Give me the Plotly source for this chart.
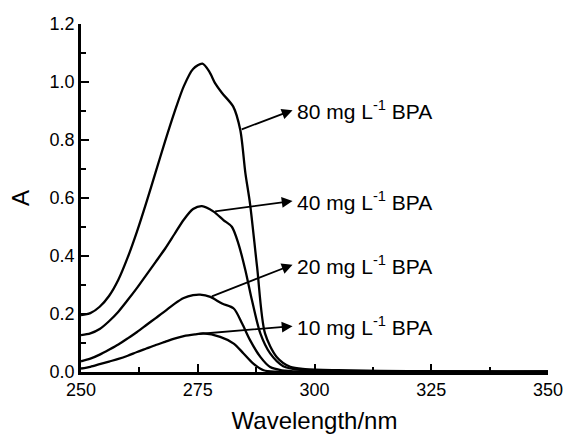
import numpy as np
import plotly.graph_objects as go

# ---- data ----
wl_80 = [250, 252, 254, 256, 258, 260, 262, 264, 266, 268, 270, 272, 274, 276, 277.5, 278.7,
         280.2, 282.6, 284.1, 285.2, 286.2, 287.7, 289.4, 291.9, 294.8, 298, 305, 320, 350]
a_80 = [0.196, 0.203, 0.225, 0.262, 0.318, 0.395, 0.485, 0.585, 0.69, 0.795, 0.895, 0.985,
        1.045, 1.063, 1.035, 0.996, 0.962, 0.915, 0.835, 0.686, 0.58, 0.363, 0.133, 0.052,
        0.018, 0.010, 0.006, 0.003, 0.002]

wl_40 = [250, 252, 254, 256, 258, 260, 262, 264, 266, 268, 270, 272, 274, 275.9, 278.4, 280.5,
         282.3, 283.7, 285.2, 286.6, 288.4, 290.5, 293.3, 297, 305, 350]
a_40 = [0.127, 0.133, 0.148, 0.175, 0.208, 0.248, 0.29, 0.335, 0.38, 0.425, 0.475, 0.525,
        0.562, 0.572, 0.553, 0.524, 0.501, 0.443, 0.351, 0.248, 0.133, 0.064, 0.02, 0.007,
        0.003, 0.001]

wl_20 = [250, 252, 254, 256, 258, 260, 262, 264, 266, 268, 270, 272, 274, 275.5, 277.7, 280.2,
         282.7, 284.5, 286.2, 288.4, 290.5, 293, 297, 350]
a_20 = [0.037, 0.046, 0.060, 0.077, 0.095, 0.116, 0.138, 0.162, 0.186, 0.21, 0.235, 0.255,
        0.265, 0.267, 0.259, 0.236, 0.219, 0.167, 0.110, 0.052, 0.017, 0.006, 0.002, 0.001]

wl_10 = [250, 252, 254, 256, 258, 260, 262, 264, 266, 268, 270, 272, 274.4, 276.2, 279.8, 282.7,
         284.8, 286.9, 289.1, 292, 350]
a_10 = [0.012, 0.018, 0.027, 0.036, 0.045, 0.056, 0.069, 0.081, 0.093, 0.104, 0.115, 0.124,
        0.130, 0.133, 0.121, 0.098, 0.064, 0.029, 0.006, 0.001, 0.0]

labels = ["80 mg L<sup>-1</sup> BPA", "40 mg L<sup>-1</sup> BPA",
          "20 mg L<sup>-1</sup> BPA", "10 mg L<sup>-1</sup> BPA"]
series = [(wl_80, a_80), (wl_40, a_40), (wl_20, a_20), (wl_10, a_10)]
# wavelength on each curve where the pointer starts, and label anchor (x, y)
arrow_from_wl = [284.1, 278.4, 277.7, 274.8]
label_x = 295.6
label_y = [0.903, 0.590, 0.370, 0.158]

FONT = "Liberation Sans, Arial, sans-serif"

fig = go.Figure()
for (wl, a), name in zip(series, labels):
    fig.add_trace(go.Scatter(x=wl, y=a, mode="lines", name=name,
                             line=dict(color="black", width=2.3, shape="spline", smoothing=0.8),
                             showlegend=False, cliponaxis=True))

for (wl, a), lab, w0, ly in zip(series, labels, arrow_from_wl, label_y):
    y0 = float(np.interp(w0, wl, a))
    fig.add_annotation(x=label_x - 0.3, y=ly, ax=w0, ay=y0, xref="x", yref="y",
                       axref="x", ayref="y", text="", showarrow=True,
                       arrowhead=2, arrowsize=1.2, arrowwidth=1.8, arrowcolor="black",
                       standoff=0, startstandoff=0)
    fig.add_annotation(x=label_x + 0.3, y=ly, xref="x", yref="y", text=lab, showarrow=False,
                       xanchor="left", yanchor="middle",
                       font=dict(family=FONT, size=21, color="black"))

axis_common = dict(showline=True, linecolor="black", linewidth=2.5, ticks="inside",
                   ticklen=8, tickwidth=2, tickcolor="black", showgrid=False, zeroline=False,
                   tickfont=dict(family=FONT, size=18, color="black"), mirror=False,
                   automargin=False)

fig.update_xaxes(range=[250, 350], dtick=25, tick0=250,
                 minor=dict(ticks="inside", ticklen=5, tickwidth=2, tickcolor="black", dtick=12.5),
                 title=dict(text="Wavelength/nm", font=dict(family=FONT, size=24, color="black"),
                            standoff=18),
                 **axis_common)
fig.update_yaxes(range=[0, 1.2], dtick=0.2, tick0=0, tickformat=".1f",
                 minor=dict(ticks="inside", ticklen=5, tickwidth=2, tickcolor="black", dtick=0.1),
                 title=dict(text="A", font=dict(family=FONT, size=24, color="black"),
                            standoff=14),
                 **axis_common)

fig.update_layout(width=564, height=434, margin=dict(l=81, r=16, t=24, b=62),
                  paper_bgcolor="white", plot_bgcolor="white",
                  font=dict(family=FONT, color="black"))

# remove the default page margin so the figure fills the window exactly
fig.write_html("out.html", config={"displayModeBar": False},
               post_script="document.body.style.margin='0';document.body.style.overflow='hidden';")
